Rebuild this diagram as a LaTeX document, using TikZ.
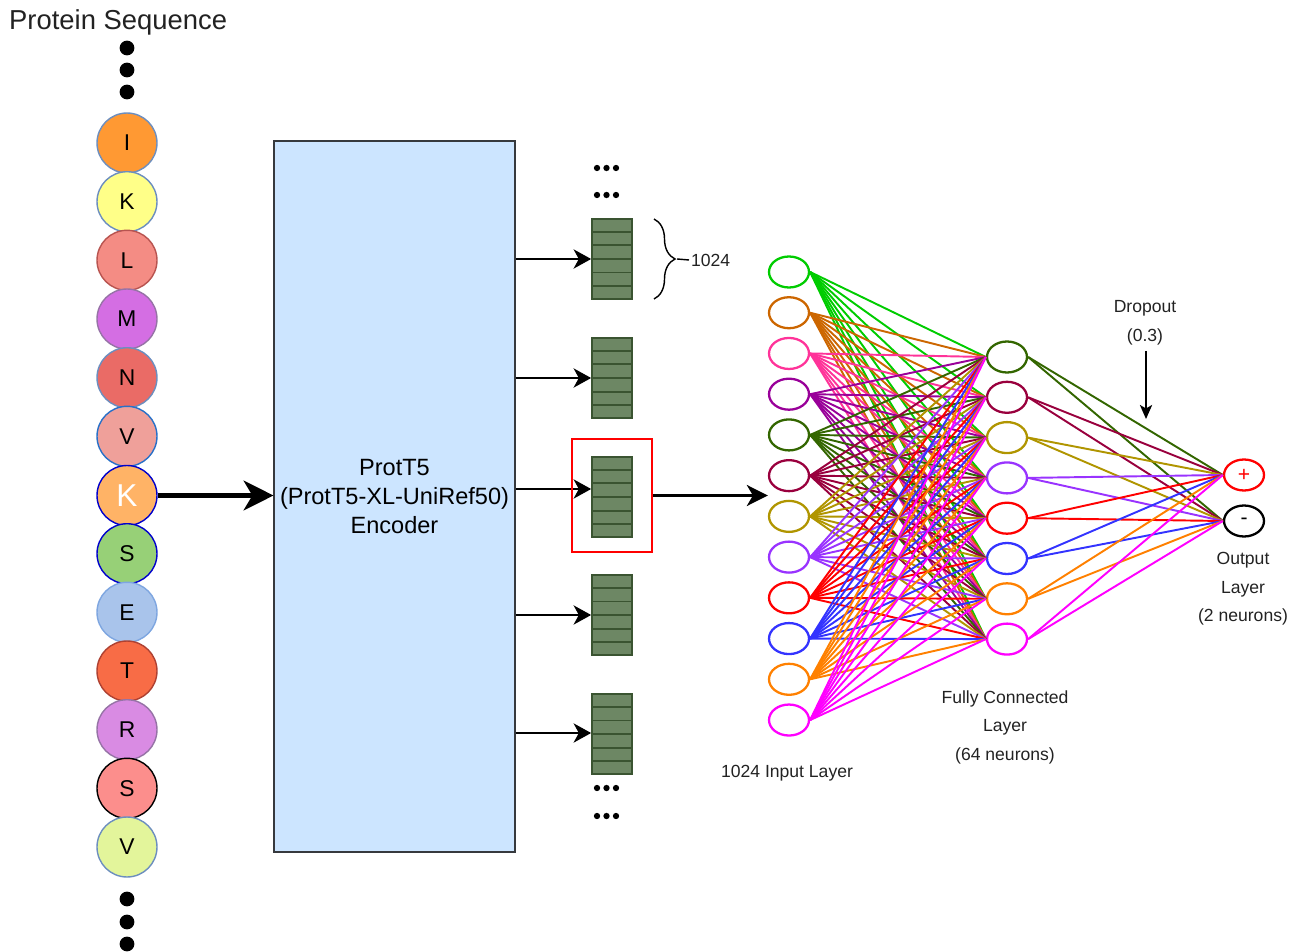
\documentclass[tikz,border=0pt]{standalone}
\usepackage{fontspec}
\setmainfont{Liberation Sans}
\usepackage{xcolor}
\usetikzlibrary{arrows.meta,shapes.geometric,decorations.pathreplacing,calc,positioning}

\definecolor{bdBlue}{HTML}{6C8EBF}
\definecolor{bdDeep}{HTML}{0000CC}
\definecolor{bdRed}{HTML}{B85450}
\definecolor{bdViolet}{HTML}{9673A6}
\definecolor{bdRust}{HTML}{AE4132}
\definecolor{bdSky}{HTML}{7EA6E0}
\definecolor{bdMid}{HTML}{2870C8}
\definecolor{acI}{HTML}{FF9933}
\definecolor{acKa}{HTML}{FFFF88}
\definecolor{acL}{HTML}{F48C84}
\definecolor{acM}{HTML}{D46EE3}
\definecolor{acN}{HTML}{EA6B66}
\definecolor{acVa}{HTML}{EFA09A}
\definecolor{acKb}{HTML}{FFB366}
\definecolor{acSa}{HTML}{97D077}
\definecolor{acE}{HTML}{A9C4EB}
\definecolor{acT}{HTML}{F86C46}
\definecolor{acR}{HTML}{D98BE3}
\definecolor{acSb}{HTML}{FC8E8C}
\definecolor{acVb}{HTML}{E3F59B}
\definecolor{encFill}{HTML}{CCE5FF}
\definecolor{encLine}{HTML}{36393D}
\definecolor{embFill}{HTML}{6D8764}
\definecolor{embLine}{HTML}{3A5431}
\definecolor{txtGray}{HTML}{222222}
\definecolor{nnGreen}{HTML}{00CC00}
\definecolor{nnBrown}{HTML}{CC6600}
\definecolor{nnPink}{HTML}{FF3399}
\definecolor{nnPurple}{HTML}{990099}
\definecolor{nnDkGreen}{HTML}{336600}
\definecolor{nnMaroon}{HTML}{99003D}
\definecolor{nnOlive}{HTML}{B09500}
\definecolor{nnViolet}{HTML}{9933FF}
\definecolor{nnRed}{HTML}{FF0000}
\definecolor{nnBlue}{HTML}{3333FF}
\definecolor{nnOrange}{HTML}{FF8000}
\definecolor{nnMagenta}{HTML}{FF00FF}

\tikzset{
  amino/.style={circle,line width=0.8pt,minimum size=1.2cm,inner sep=0pt,
    font=\fontsize{13}{15}\selectfont},
  seqdot/.style={circle,fill=black,inner sep=0pt,minimum size=8.4pt},
  smalldot/.style={circle,fill=black,inner sep=0pt,minimum size=3.6pt},
  encoder/.style={rectangle,draw=encLine,fill=encFill,line width=0.8pt,
    minimum width=4.74cm,minimum height=14.22cm,align=center,
    font=\fontsize{13.4}{16.4}\selectfont},
  emb/.style={rectangle,draw=embLine,fill=embFill,line width=1pt,
    minimum width=0.8cm,minimum height=1.6cm,inner sep=0pt},
  neuron/.style={ellipse,line width=1.3pt,minimum width=0.8cm,minimum height=0.62cm,
    inner sep=0pt,font=\fontsize{12}{14}\selectfont},
  link/.style={line width=1.1pt},
  lbl/.style={text=txtGray,align=center,font=\fontsize{10}{16.2}\selectfont},
  thinarr/.style={line width=0.85pt,-{Stealth[length=10pt,width=11pt,inset=3pt]}},
  midarr/.style={line width=1.4pt,-{Stealth[length=12pt,width=12pt,inset=3.5pt]}},
  bigarr/.style={line width=2.4pt,-{Stealth[length=17pt,width=17pt,inset=5pt]}},
  droparr/.style={line width=0.85pt,-{Stealth[length=8pt,width=7pt,inset=2pt]}},
}

\begin{document}
\begin{tikzpicture}[x=0.02cm,y=-0.02cm]
    \useasboundingbox (0,0) rectangle (1297,952);

    % protein sequence
    \node[anchor=west,font=\fontsize{15.6}{18}\selectfont,text=txtGray] (title) at (3,22) {Protein Sequence};
    \node[seqdot] (dt1) at (127,48) {};
    \node[seqdot] (dt2) at (127,70) {};
    \node[seqdot] (dt3) at (127,92) {};

    \node[amino,fill=acI,draw=bdBlue] (aa1) at (127,143) {I};
    \node[amino,fill=acKa,draw=bdBlue] (aa2) at (127,201.7) {K};
    \node[amino,fill=acL,draw=bdRed] (aa3) at (127,260.3) {L};
    \node[amino,fill=acM,draw=bdViolet] (aa4) at (127,319) {M};
    \node[amino,fill=acN,draw=bdBlue] (aa5) at (127,377.7) {N};
    \node[amino,fill=acVa,draw=bdMid] (aa6) at (127,436.3) {V};
    \node[amino,fill=acKb,draw=bdDeep,text=white,font=\fontsize{18}{20}\selectfont] (aa7) at (127,495.5) {K};
    \node[amino,fill=acSa,draw=bdDeep] (aa8) at (127,553.7) {S};
    \node[amino,fill=acE,draw=bdSky] (aa9) at (127,612.3) {E};
    \node[amino,fill=acT,draw=bdRust] (aa10) at (127,671) {T};
    \node[amino,fill=acR,draw=bdViolet] (aa11) at (127,729.7) {R};
    \node[amino,fill=acSb,draw=black] (aa12) at (127,788.3) {S};
    \node[amino,fill=acVb,draw=bdBlue] (aa13) at (127,847) {V};

    \node[seqdot] (db1) at (127,899) {};
    \node[seqdot] (db2) at (127,922) {};
    \node[seqdot] (db3) at (127,944) {};

    % encoder
    \node[encoder] (enc) at (394.5,496.5) {ProtT5\\(ProtT5-XL-UniRef50)\\Encoder};
    \draw[bigarr] (aa7.east) -- (aa7.east -| enc.west);

    % embeddings
    \foreach \b/\y in {1/259,2/378,3/497,4/615,5/734} {
        \node[emb] (e\b) at (612,\y) {};
        \foreach \k in {1,...,5}
            \draw[embLine,line width=1pt] ($(e\b.north west)!\k/6!(e\b.south west)$) -- ($(e\b.north east)!\k/6!(e\b.south east)$);
    }
    \draw[thinarr] (enc.east |- e1.west) -- (e1.west);
    \draw[thinarr] (enc.east |- e2.west) -- (e2.west);
    \draw[thinarr] ([yshift=0.16cm]enc.east |- e3.west) -- ([yshift=0.16cm]e3.west);
    \draw[thinarr] (enc.east |- e4.west) -- (e4.west);
    \draw[thinarr] ([yshift=0.02cm]enc.east |- e5.west) -- ([yshift=0.02cm]e5.west);

    \foreach \x [count=\n] in {597,606.5,616} {
        \node[smalldot] (ta\n) at (\x,168) {};
        \node[smalldot] (tb\n) at (\x,195) {};
        \node[smalldot] (ba\n) at (\x,788) {};
        \node[smalldot] (bb\n) at (\x,816) {};
    }

    \node[draw=red,line width=1.2pt,minimum width=1.6cm,minimum height=2.26cm] (redbox) at (612,495.5) {};

    % brace
    \draw[line width=0.8pt,decorate,decoration={brace,amplitude=0.42cm,aspect=0.5}] (654,219) -- (654,299);
    \coordinate (btip) at (677,259);
    \node[lbl,anchor=west,inner sep=1pt] (n1024) at (689,260) {1024};
    \draw[line width=0.8pt] (btip) -- (n1024.west);

    % network
    \foreach \c [count=\i] in {nnGreen,nnBrown,nnPink,nnPurple,nnDkGreen,nnMaroon,nnOlive,nnViolet,nnRed,nnBlue,nnOrange,nnMagenta}
        \node[neuron,draw=\c] (in\i) at (789,{272+(\i-1)*40.73}) {};
    \foreach \c [count=\j] in {nnDkGreen,nnMaroon,nnOlive,nnViolet,nnRed,nnBlue,nnOrange,nnMagenta}
        \node[neuron,draw=\c] (hd\j) at (1007,{357+(\j-1)*40.3}) {};
    \node[neuron,draw=red,text=red] (op) at (1244,475) {+};
    \node[neuron,draw=black] (om) at (1244,521) {-};

    \draw[midarr] (redbox.east) -- (redbox.east -| in1.west);

    \foreach \c [count=\i] in {nnGreen,nnBrown,nnPink,nnPurple,nnDkGreen,nnMaroon,nnOlive,nnViolet,nnRed,nnBlue,nnOrange,nnMagenta}
        \foreach \j in {1,...,8}
            \draw[link,\c] (in\i.east) -- (hd\j.west);
    \foreach \c [count=\j] in {nnDkGreen,nnMaroon,nnOlive,nnViolet,nnRed,nnBlue,nnOrange,nnMagenta} {
        \draw[link,\c] (hd\j.east) -- (op.west);
        \draw[link,\c] (hd\j.east) -- (om.west);
    }

    % labels
    \node[lbl] (drop) at (1145,323) {Dropout\\(0.3)};
    \draw[droparr] (1146,351) -- (1146,419);
    \node[lbl] (outl) at (1243,589) {Output\\Layer\\(2 neurons)};
    \node[lbl] (fcl) at (1005,727) {Fully Connected\\Layer\\(64 neurons)};
    \node[lbl] (inl) at (787,773) {1024 Input Layer};
\end{tikzpicture}
\end{document}
